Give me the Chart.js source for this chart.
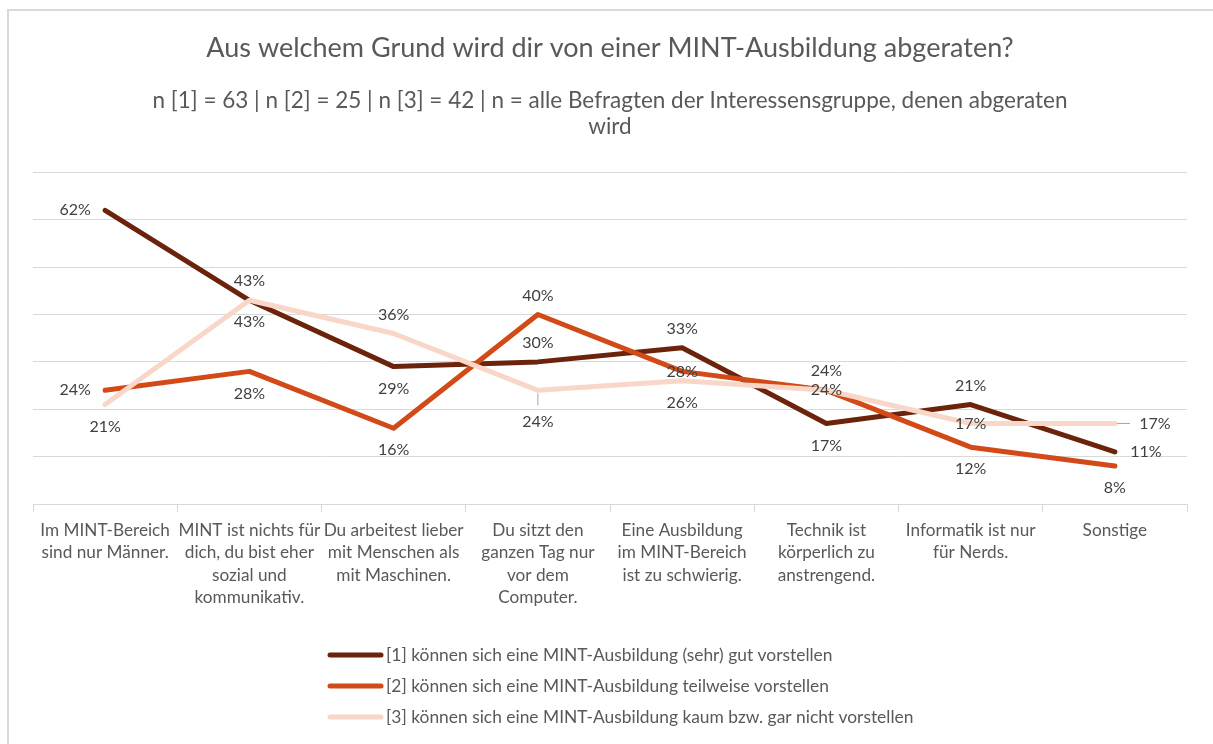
<!DOCTYPE html>
<html lang="de">
<head>
<meta charset="utf-8">
<title>MINT-Ausbildung abgeraten</title>
<script src="https://cdn.jsdelivr.net/npm/chart.js@4.4.1/dist/chart.umd.min.js"></script>
<style>
    html, body { margin: 0; padding: 0; background: #fff; overflow: hidden; }
    #wrap { position: relative; width: 1213px; height: 744px; }
    #frame { position: absolute; left: 7px; top: 9px; width: 1230px; height: 760px; border: 2px solid #d9d9d9; }
    canvas { position: absolute; left: 0; top: 0; }
</style>
</head>
<body>
<div id="wrap">
    <div id="frame"></div>
    <canvas id="myChart" width="1213" height="744"></canvas>
</div>
<script>
// categories (x axis), already wrapped like in the original
const categories = [
    ["Im MINT-Bereich", "sind nur Männer."],
    ["MINT ist nichts für", "dich, du bist eher", "sozial und", "kommunikativ."],
    ["Du arbeitest lieber", "mit Menschen als", "mit Maschinen."],
    ["Du sitzt den", "ganzen Tag nur", "vor dem", "Computer."],
    ["Eine Ausbildung", "im MINT-Bereich", "ist zu schwierig."],
    ["Technik ist", "körperlich zu", "anstrengend."],
    ["Informatik ist nur", "für Nerds."],
    ["Sonstige"]
];

const seriesNames = [
    "[1] können sich eine MINT-Ausbildung (sehr) gut vorstellen",
    "[2] können sich eine MINT-Ausbildung teilweise vorstellen",
    "[3] können sich eine MINT-Ausbildung kaum bzw. gar nicht vorstellen"
];

// values in %
const gutVorstellen = [62, 43, 29, 30, 33, 17, 21, 11];
const teilweiseVorstellen = [24, 28, 16, 40, 28, 24, 12, 8];
const kaumVorstellen = [21, 43, 36, 24, 26, 24, 17, 17];

const yMax = 70;
const yStep = 10;

// where each value label sits relative to its point
const labelPlacement = [
    ["left", "above", "below", "above", "above", "below", "above", "right"],
    ["left", "below", "below", "above", "center", "above", "below", "below"],
    ["below", "below", "above", "belowLeader", "below", "center", "center", "rightLeader"]
];

const colors = ["#6b230b", "#d24a18", "#f8d6c8"];
const textGray = "#595959";
const gridGray = "#d9d9d9";
const fontFamily = "Lato, 'Open Sans', sans-serif";

const pointLabels = {
    id: "pointLabels",
    afterDatasetsDraw(chart) {
        const ctx = chart.ctx;
        ctx.save();
        ctx.font = `16px ${fontFamily}`;
        ctx.textAlign = "center";
        ctx.textBaseline = "middle";
        chart.data.datasets.forEach((ds, i) => {
            const meta = chart.getDatasetMeta(i);
            meta.data.forEach((pt, j) => {
                let x = pt.x;
                let y = pt.y;
                const place = labelPlacement[i][j];
                if (place === "above") y -= 19;
                else if (place === "below") y += 22;
                else if (place === "left") x -= 30;
                else if (place === "right") x += 31;
                else if (place === "belowLeader") {
                    ctx.strokeStyle = "#a6a6a6";
                    ctx.lineWidth = 1;
                    ctx.beginPath();
                    ctx.moveTo(x, y + 3);
                    ctx.lineTo(x, y + 15);
                    ctx.stroke();
                    y += 32;
                }
                else if (place === "rightLeader") {
                    ctx.strokeStyle = "#a6a6a6";
                    ctx.lineWidth = 1;
                    ctx.beginPath();
                    ctx.moveTo(x + 2, y);
                    ctx.lineTo(x + 15, y);
                    ctx.stroke();
                    x += 40;
                }
                ctx.fillStyle = "#404040";
                ctx.fillText(ds.data[j] + "%", x, y);
            });
        });
        ctx.restore();
    }
};

// legend stacked under the axis, items left aligned
const stackedLegend = {
    id: "stackedLegend",
    afterDraw(chart) {
        const ctx = chart.ctx;
        ctx.save();
        ctx.font = `17.4px ${fontFamily}`;
        ctx.textAlign = "left";
        ctx.textBaseline = "middle";
        ctx.lineCap = "round";
        chart.data.datasets.forEach((ds, i) => {
            const y = 655 + i * 31;
            ctx.strokeStyle = ds.borderColor;
            ctx.lineWidth = 5;
            ctx.beginPath();
            ctx.moveTo(330, y);
            ctx.lineTo(381, y);
            ctx.stroke();
            ctx.fillStyle = textGray;
            ctx.fillText(ds.label, 386, y);
        });
        ctx.restore();
    }
};

function init() {
    const canvas = document.getElementById("myChart");
    const allValues = [gutVorstellen, teilweiseVorstellen, kaumVorstellen];

    new Chart(canvas, {
        type: "line",
        data: {
            labels: categories,
            datasets: allValues.map((values, i) => ({
                label: seriesNames[i],
                data: values,
                borderColor: colors[i],
                backgroundColor: colors[i],
                borderWidth: 5,
                pointRadius: 0,
                tension: 0,
                borderJoinStyle: "round",
                borderCapStyle: "round",
                order: 3 - i
            }))
        },
        options: {
            responsive: false,
            animation: false,
            devicePixelRatio: 1,
            layout: { padding: { left: 33, right: 26, top: 0, bottom: 128 } },
            plugins: {
                legend: { display: false },
                tooltip: { enabled: false },
                title: {
                    display: true,
                    text: "Aus welchem Grund wird dir von einer MINT-Ausbildung abgeraten?",
                    color: textGray,
                    font: { family: fontFamily, size: 27, weight: "normal", lineHeight: 1.2 },
                    padding: { top: 32, bottom: 23 }
                },
                subtitle: {
                    display: true,
                    text: ["n [1] = 63 | n [2] = 25 | n [3] = 42 | n = alle Befragten der Interessensgruppe, denen abgeraten", "wird"],
                    color: textGray,
                    font: { family: fontFamily, size: 22.5, weight: "normal", lineHeight: 26 / 22.5 },
                    padding: { top: 0, bottom: 33 }
                }
            },
            scales: {
                x: {
                    offset: true,
                    grid: {
                        offset: true,
                        drawOnChartArea: false,
                        drawTicks: true,
                        tickLength: 8,
                        color: gridGray
                    },
                    border: { display: true, color: gridGray },
                    ticks: {
                        autoSkip: false,
                        maxRotation: 0,
                        minRotation: 0,
                        padding: 7,
                        color: textGray,
                        font: { family: fontFamily, size: 17.2, lineHeight: 22.5 / 17.2 }
                    }
                },
                y: {
                    min: 0,
                    max: yMax,
                    ticks: { display: false, stepSize: yStep },
                    grid: { color: gridGray, drawTicks: false },
                    border: { display: false }
                }
            }
        },
        plugins: [pointLabels, stackedLegend]
    });
}

document.addEventListener("DOMContentLoaded", init);
</script>
</body>
</html>
